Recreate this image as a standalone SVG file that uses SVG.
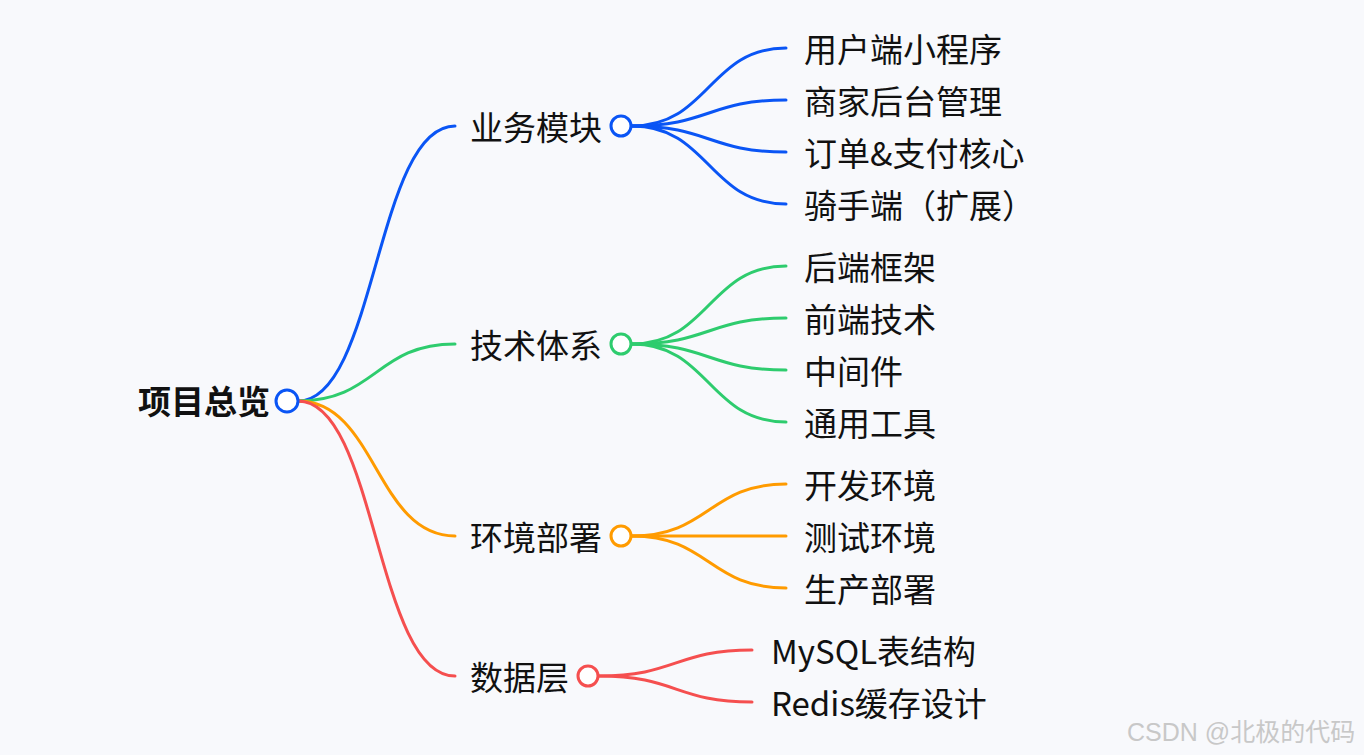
<svg xmlns="http://www.w3.org/2000/svg" width="1364" height="755" viewBox="0 0 1364 755">
<style>
text{font-family:"Noto Sans CJK SC","Noto Sans",sans-serif;font-size:33px;fill:#111}
.root{font-weight:bold}
.e{fill:none;stroke-width:3;stroke-linecap:round}
.b{stroke:#0a55f5}.g{stroke:#2ecc6e}.o{stroke:#ff9b00}.r{stroke:#f54f4f}
.c{fill:#fff;stroke-width:3}
.wm{font-family:"Liberation Sans","Noto Sans CJK SC",sans-serif;font-size:25px;fill:#c8c8c8}
</style>
<rect width="1364" height="755" fill="#f8f9fc"/>
<g id="connectors">
<path class="e b" d="M298 401 C376 401 376 126 455 126"/>
<path class="e g" d="M298 401 C376 401 376 344 455 344"/>
<path class="e o" d="M298 401 C376 401 376 536 455 536"/>
<path class="e r" d="M298 401 C376 401 376 676 455 676"/>
<path class="e b" d="M632 126 C709 126 709 48 786 48"/>
<path class="e b" d="M632 126 C709 126 709 100 786 100"/>
<path class="e b" d="M632 126 C709 126 709 152 786 152"/>
<path class="e b" d="M632 126 C709 126 709 204 786 204"/>
<path class="e g" d="M632 344 C709 344 709 266 786 266"/>
<path class="e g" d="M632 344 C709 344 709 318 786 318"/>
<path class="e g" d="M632 344 C709 344 709 370 786 370"/>
<path class="e g" d="M632 344 C709 344 709 422 786 422"/>
<path class="e o" d="M632 536 C709 536 709 484 786 484"/>
<path class="e o" d="M632 536 L786 536"/>
<path class="e o" d="M632 536 C709 536 709 588 786 588"/>
<path class="e r" d="M599 676 C676 676 676 650 752 650"/>
<path class="e r" d="M599 676 C676 676 676 702 752 702"/>
</g>
<g id="root"><text class="root" x="270" y="414" text-anchor="end">项目总览</text><circle class="c b" cx="287" cy="401" r="11"/></g>
<g id="n-yewu"><text x="470" y="140">业务模块</text><circle class="c b" cx="621" cy="126" r="10"/></g>
<g id="n-jishu"><text x="470" y="358">技术体系</text><circle class="c g" cx="621" cy="344" r="10"/></g>
<g id="n-huanjing"><text x="470" y="550">环境部署</text><circle class="c o" cx="621" cy="536" r="10"/></g>
<g id="n-shuju"><text x="470" y="690">数据层</text><circle class="c r" cx="588" cy="676" r="10"/></g>
<g id="l1"><text x="804" y="62">用户端小程序</text></g>
<g id="l2"><text x="804" y="114">商家后台管理</text></g>
<g id="l3"><text x="804" y="166">订单&amp;支付核心</text></g>
<g id="l4"><text x="804" y="218">骑手端（扩展）</text></g>
<g id="l5"><text x="804" y="280">后端框架</text></g>
<g id="l6"><text x="804" y="332">前端技术</text></g>
<g id="l7"><text x="804" y="384">中间件</text></g>
<g id="l8"><text x="804" y="436">通用工具</text></g>
<g id="l9"><text x="804" y="498">开发环境</text></g>
<g id="l10"><text x="804" y="550">测试环境</text></g>
<g id="l11"><text x="804" y="602">生产部署</text></g>
<g id="l12"><text x="771" y="664">MySQL表结构</text></g>
<g id="l13"><text x="771" y="716">Redis缓存设计</text></g>
<text class="wm" x="1127" y="741">CSDN @北极的代码</text>
</svg>
